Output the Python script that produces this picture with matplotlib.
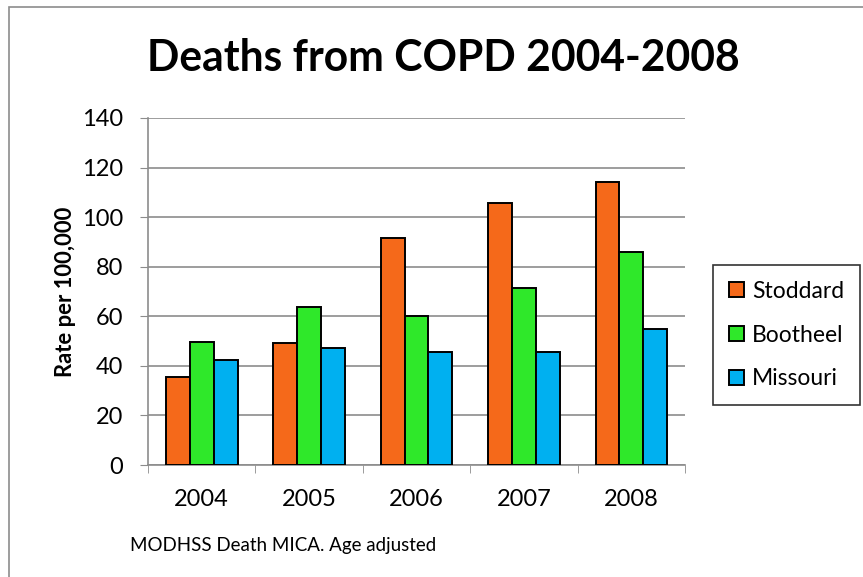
import matplotlib
matplotlib.use("Agg")
import matplotlib.pyplot as plt
import numpy as np
from matplotlib.patches import Rectangle

years = ["2004", "2005", "2006", "2007", "2008"]
stoddard = [35.5, 49.3, 91.7, 105.6, 114.1]
bootheel = [49.8, 63.9, 60.2, 71.3, 86.0]
missouri = [42.3, 47.2, 45.7, 45.4, 55.0]
series_names = ["Stoddard", "Bootheel", "Missouri"]
colors = ["#F5691A", "#2FE82A", "#00B0F0"]
yticks = [0, 20, 40, 60, 80, 100, 120, 140]

plt.rcParams['font.family'] = ['Lato', 'DejaVu Sans']

W, H = 863, 577
fig = plt.figure(figsize=(W/100, H/100), dpi=100)
fig.patch.set_facecolor("white")

# outer border (top & left visible)
fig.patches.append(Rectangle((9/W, -0.1), 1.2, (H-7)/H + 0.1, transform=fig.transFigure,
                             fill=False, edgecolor="#8c8c8c", linewidth=1.2))

left, right, top, bottom = 148, 685, 118, 465
ax = fig.add_axes([left/W, 1-bottom/H, (right-left)/W, (bottom-top)/H])

x = np.arange(len(years))
w = 1/4.5
for i, (vals, name, c) in enumerate(zip([stoddard, bootheel, missouri], series_names, colors)):
    ax.bar(x + (i-1)*w, vals, width=w, color=c, edgecolor="black", linewidth=1.4,
           label=name, zorder=3)

ax.set_xlim(-0.5, len(years)-0.5)
ax.set_ylim(0, 140)
ax.set_yticks(yticks)
ax.set_yticklabels([str(t) for t in yticks], fontsize=17)
ax.set_xticks(x)
ax.set_xticklabels(years, fontsize=17)
ax.tick_params(axis='x', length=0, pad=17)
ax.set_xticks(np.arange(-0.5, len(years)), minor=True)
ax.tick_params(axis='x', which='minor', length=6, color="#8c8c8c", direction='out')
ax.tick_params(axis='y', length=6, color="#8c8c8c", direction='out', pad=12)
ax.grid(axis='y', color="#8c8c8c", linewidth=1.2, zorder=0)
for s in ["top", "right"]:
    ax.spines[s].set_visible(False)
for s in ["left", "bottom"]:
    ax.spines[s].set_color("#8c8c8c")
    ax.spines[s].set_linewidth(1.2)

ax.set_ylabel("Rate per 100,000", fontsize=15.8, fontweight="bold", labelpad=4)

fig.text(443/W, 1-58/H, "Deaths from COPD 2004-2008", ha="center", va="center",
         fontsize=30.7, fontweight="bold")
fig.text(130/W, 1-545/H, "MODHSS Death MICA. Age adjusted", ha="left", va="center",
         fontsize=13.5)

leg = ax.legend(loc="center left", bbox_to_anchor=(713/W, 1-335/H), bbox_transform=fig.transFigure,
                fontsize=16.5, frameon=True, fancybox=False, edgecolor="black",
                handlelength=0.65, handleheight=0.65, handletextpad=0.35, labelspacing=1.0,
                borderpad=0.7, borderaxespad=0)
leg.get_frame().set_linewidth(1.2)

fig.savefig("out.png", dpi=100)
